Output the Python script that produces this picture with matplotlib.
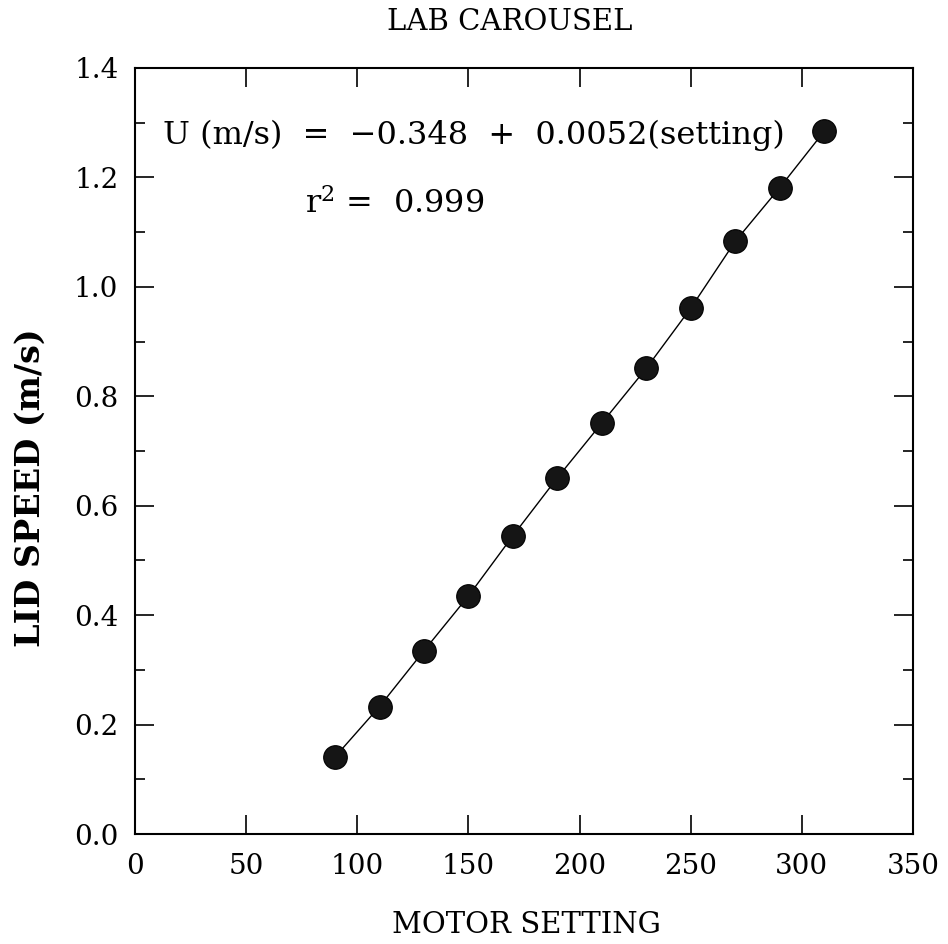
import matplotlib
matplotlib.use('Agg')
import matplotlib.pyplot as plt
from matplotlib.ticker import MultipleLocator

# motor setting vs measured lid speed
setting = [90, 110, 130, 150, 170, 190, 210, 230, 250, 270, 290, 310]
speed = [0.141, 0.233, 0.335, 0.435, 0.545, 0.651, 0.751, 0.851, 0.961, 1.083, 1.181, 1.284]

plt.rcParams['font.family'] = 'DejaVu Serif'
plt.rcParams['mathtext.fontset'] = 'dejavuserif'

fig = plt.figure(figsize=(9.48, 9.44), dpi=100)
ax = fig.add_axes([0.1424, 0.1165, 0.8207, 0.8115])

ax.plot(setting, speed, '-', color='black', linewidth=1.0, zorder=2)
ax.plot(setting, speed, 'o', markersize=17, markerfacecolor='#151515',
        markeredgecolor='black', markeredgewidth=0.8, zorder=3)

ax.set_xlim(0, 350)
ax.set_ylim(0, 1.4)
ax.xaxis.set_major_locator(MultipleLocator(50))
ax.yaxis.set_major_locator(MultipleLocator(0.2))
ax.yaxis.set_minor_locator(MultipleLocator(0.1))
ax.yaxis.set_major_formatter(plt.FuncFormatter(lambda v, p: '%.1f' % v))

ax.tick_params(which='both', direction='in', top=True, right=True, width=1.2)
ax.tick_params(which='major', length=14, labelsize=20)
ax.tick_params(axis='x', which='major', pad=14)
ax.tick_params(axis='y', which='major', pad=12)
ax.tick_params(which='minor', length=7)
for s in ax.spines.values():
    s.set_linewidth(1.5)

ax.text(12.6, 1.276, 'U (m/s)  =  \u22120.348  +  0.0052(setting)', fontsize=23,
        va='center', ha='left')
ax.text(76.5, 1.152, r'r$^2$ =  0.999', fontsize=23, va='center', ha='left')

fig.text(0.538, 0.977, 'LAB CAROUSEL', fontsize=21, ha='center', va='center')
fig.text(0.555, 0.020, 'MOTOR SETTING', fontsize=21, ha='center', va='center')
fig.text(0.032, 0.483, 'LID SPEED (m/s)', fontsize=24, ha='center', va='center',
         rotation=90, fontweight='bold')

fig.savefig('out.png', dpi=100)
